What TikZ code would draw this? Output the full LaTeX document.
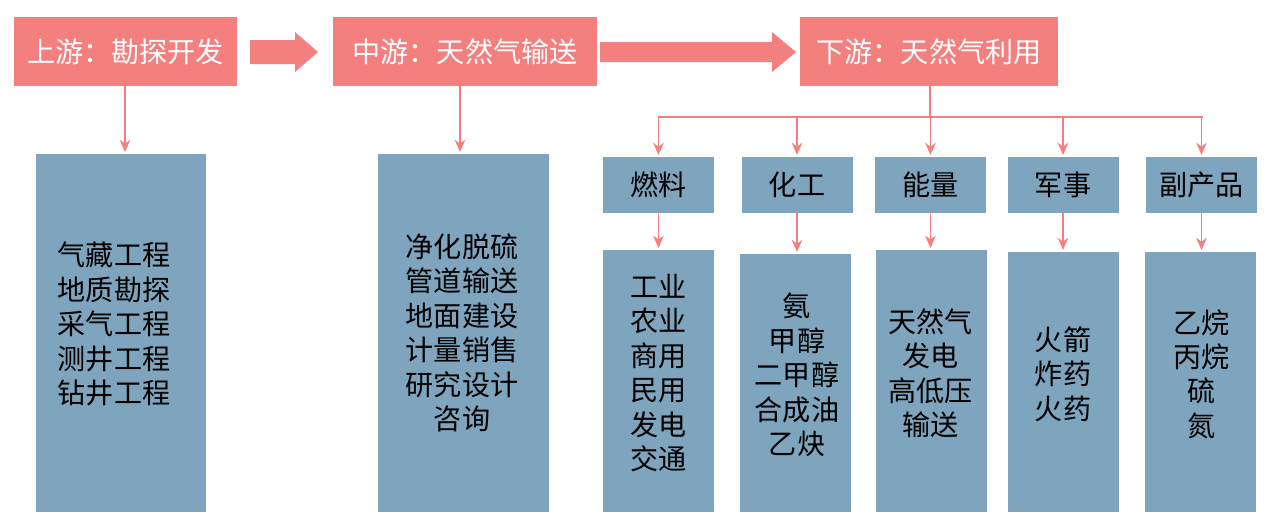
\documentclass[tikz,border=0pt]{standalone}
\usepackage{fontspec}
\newfontfamily\cjk{Noto Sans CJK SC}
\usetikzlibrary{arrows.meta}
\definecolor{pk}{HTML}{F47F7F}
\definecolor{bl}{HTML}{7FA4BD}
\begin{document}
\begin{tikzpicture}[x=0.02cm,y=-0.02cm,
 blu/.style={fill=bl,draw=none,text=black,font=\cjk\fontsize{16}{19.6}\selectfont,align=center},
 lab/.style={font=\cjk\fontsize{16}{18}\selectfont,text=white},
 arr/.style={draw=pk,line width=0.8pt,-{Stealth[length=7pt,width=6pt]}}]
\useasboundingbox (0,0) rectangle (1278,524);
% top boxes
\fill[pk] (14,17) rectangle (237,86); \node[lab] (u) at (125.5,51.5) {上游：勘探开发};
\fill[pk] (333,17) rectangle (597,86); \node[lab] (m) at (465,51.5) {中游：天然气输送};
\fill[pk] (800,17) rectangle (1058,86); \node[lab] (d) at (929,51.5) {下游：天然气利用};
% block arrows
\fill[pk] (250,40)--(295,40)--(295,32)--(318,52)--(295,72)--(295,64)--(250,64)--cycle;
\fill[pk] (600,42)--(772,42)--(772,32)--(796,52)--(772,72)--(772,62)--(600,62)--cycle;
% blue columns
\fill[bl] (36,154) rectangle (206,512);
\node[blu] (a) at (114,324) {气藏工程\\地质勘探\\采气工程\\测井工程\\钻井工程};
\fill[bl] (378,154) rectangle (549,512);
\node[blu] (b) at (462,333) {净化脱硫\\管道输送\\地面建设\\计量销售\\研究设计\\咨询};
\coordinate (ua) at (125,86); \coordinate (ub) at (125,152);
\draw[arr] (ua)--(ub);
\coordinate (ma) at (460,86); \coordinate (mb) at (460,152);
\draw[arr] (ma)--(mb);
\coordinate (da) at (930,86); \coordinate (db) at (930,117);
\draw[draw=pk,line width=0.8pt] (da)--(db);
\coordinate (hl) at (658,117); \coordinate (hr) at (1203,117);
\draw[draw=pk,line width=0.8pt] (hl)--(hr);
\foreach \n/\cx/\t/\lx/\ly/\body in {
 1/658.5/燃料/603/250/{工业\\农业\\商用\\民用\\发电\\交通},
 2/797/化工/740/254/{氨\\甲醇\\二甲醇\\合成油\\乙炔},
 3/930.5/能量/876/250/{天然气\\发电\\高低压\\输送},
 4/1063/军事/1008/252/{火箭\\炸药\\火药},
 5/1201.5/副产品/1145/252/{乙烷\\丙烷\\硫\\氮}}{
 \fill[bl] (\cx-55.5,157) rectangle (\cx+55.5,213);
 \node[lab,text=black] (s\n) at (\cx,185) {\t};
 \fill[bl] (\lx,\ly) rectangle (\lx+111,512);
 \node[blu] (l\n) at (\cx,{(\ly+512)/2-8}) {\body};
 \coordinate (p\n) at (\cx,117); \coordinate (q\n) at (\cx,155);
 \draw[arr] (p\n)--(q\n);
 \coordinate (r\n) at (\cx,213); \coordinate (t\n) at (\cx,\ly-2);
 \draw[arr] (r\n)--(t\n);
}
\end{tikzpicture}
\end{document}
